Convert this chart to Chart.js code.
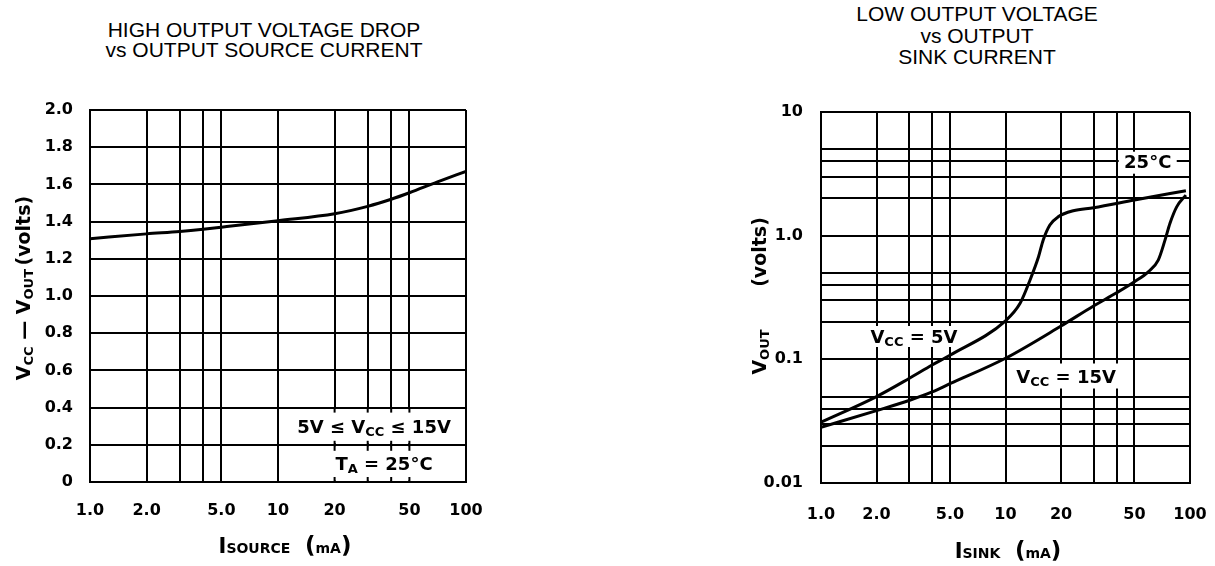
<!DOCTYPE html>
<html>
<head>
<meta charset="utf-8">
<script src="https://cdn.jsdelivr.net/npm/chart.js@4.4.1/dist/chart.umd.min.js"></script>
<style>
  body { margin: 0; background: #fff; width: 1215px; height: 566px; position: relative; overflow: hidden; }
  canvas { position: absolute; top: 0; }
  #srcChart { left: 0; }
  #sinkChart { left: 600px; }
  .title { position: absolute; width: 500px; text-align: center; font-family: "Liberation Sans", Arial, sans-serif; font-size: 21px; color: #000; }
</style>
</head>
<body>
<div class="title" style="left:14px; top:20px; line-height:20px;">HIGH OUTPUT VOLTAGE DROP<br>vs OUTPUT SOURCE CURRENT</div>
<div class="title" style="left:727px; top:3px; line-height:21.5px;">LOW OUTPUT VOLTAGE<br>vs OUTPUT<br>SINK CURRENT</div>
<canvas id="srcChart" width="600" height="566"></canvas>
<canvas id="sinkChart" width="615" height="566"></canvas>
<script>
// left chart: Vcc - Vout vs source current (mA)
const srcCurrent = [1, 2, 3, 4, 5, 10, 20, 30, 40, 50, 70, 100];
const srcDrop = [1.308, 1.334, 1.347, 1.359, 1.37, 1.405, 1.442, 1.482, 1.52, 1.555, 1.612, 1.67];

// right chart: Vout vs sink current (mA), two supply voltages
const sinkCurrent5V = [1, 2, 3, 4, 5, 10, 12, 13.6, 15.1, 16, 17.4, 19.3, 23.3, 30, 50, 95];
const vout5V = [0.031, 0.05, 0.07, 0.09, 0.108, 0.205, 0.284, 0.44, 0.675, 0.92, 1.22, 1.42, 1.59, 1.68, 1.94, 2.31];
const sinkCurrent15V = [1, 2, 3, 4, 5, 10, 20, 30, 40, 50, 59.4, 67.3, 73.2, 77.9, 84.7, 95];
const vout15V = [0.0282, 0.0385, 0.0465, 0.0545, 0.0635, 0.102, 0.186, 0.27, 0.345, 0.424, 0.51, 0.635, 0.92, 1.26, 1.71, 2.13];

// axis ticks (grid lines) and their labels
const currentTicks = [1, 2, 3, 4, 5, 10, 20, 30, 40, 50, 100];
const currentLabels = ['1.0', '2.0', '', '', '5.0', '10', '20', '', '', '50', '100'];
const dropTicks = [0, 0.2, 0.4, 0.6, 0.8, 1.0, 1.2, 1.4, 1.6, 1.8, 2.0];
const dropLabels = ['0', '0.2', '0.4', '0.6', '0.8', '1.0', '1.2', '1.4', '1.6', '1.8', '2.0'];
const voutTicks = [0.01, 0.02, 0.03, 0.04, 0.05, 0.1, 0.2, 0.3, 0.4, 0.5, 1, 2, 3, 4, 5, 10];
const voutLabels = ['0.01', '', '', '', '', '0.1', '', '', '', '', '1.0', '', '', '', '', '10'];

const bold = s => `bold ${s}px "DejaVu Sans"`;
const gridOpts = { color: '#000', lineWidth: 2, drawTicks: false };
const borderOpts = { color: '#000', width: 2 };
const tickFont = { family: 'DejaVu Sans', size: 16, weight: 'bold' };

// draws text made of pieces with different sizes (for subscripts)
function richText(ctx, parts, x, y, vertical) {
  ctx.save();
  ctx.translate(x, y);
  if (vertical) ctx.rotate(-Math.PI / 2);
  ctx.fillStyle = '#000';
  ctx.textAlign = 'left';
  ctx.textBaseline = 'alphabetic';
  let total = 0;
  const widths = parts.map(p => {
    ctx.font = bold(p[1]);
    const w = ctx.measureText(p[0]).width;
    total += w;
    return w;
  });
  let cx = -total / 2;
  parts.forEach((p, i) => {
    ctx.font = bold(p[1]);
    ctx.fillText(p[0], cx, p[2] || 0);
    cx += widths[i];
  });
  ctx.restore();
}

function ticksFrom(values) {
  return s => { s.ticks = values.map(v => ({ value: v })); };
}

const srcNotes = {
  id: 'srcNotes',
  beforeDatasetsDraw(chart) {
    const { ctx, chartArea: a } = chart;
    const x = chart.scales.x, y = chart.scales.y;
    const x10 = x.getPixelForValue(10);
    const yTop = y.getPixelForValue(0.4), yMid = y.getPixelForValue(0.2), yBot = y.getPixelForValue(0);
    ctx.save();
    ctx.fillStyle = '#fff';
    ctx.fillRect(x10 + 1.5, yTop + 1.5, a.right - x10 - 3, yMid - yTop - 3);
    ctx.fillRect(x10 + 1.5, yMid + 1.5, a.right - x10 - 3, yBot - yMid - 3);
    ctx.strokeStyle = '#000';
    ctx.lineWidth = 2;
    [20, 30, 40, 50].forEach(v => {
      const px = x.getPixelForValue(v);
      [[yTop, 5], [yMid, -4], [yMid, 6], [yBot, -5]].forEach(s => {
        ctx.beginPath();
        ctx.moveTo(px, s[0]);
        ctx.lineTo(px, s[0] + s[1]);
        ctx.stroke();
      });
    });
    const mid = (x10 + a.right) / 2;
    richText(ctx, [['5V ≤ V', 18], ['CC', 13, 3], [' ≤ 15V', 18]], mid + 2, (yTop + yMid) / 2 + 6.5);
    richText(ctx, [['T', 18], ['A', 13, 3], [' = 25°C', 18]], mid + 12, (yMid + yBot) / 2 + 6.5);
    ctx.restore();
  },
  afterDraw(chart) {
    const ctx = chart.ctx;
    richText(ctx, [['V', 19], ['CC', 13, 3], [' — ', 19], ['V', 19], ['OUT', 13, 3], [' ', 10], ['(volts)', 19]], 30, 288, true);
    richText(ctx, [['I', 21], ['SOURCE', 14], ['   ', 14], ['(', 23], ['mA', 14], [')', 23]], 285, 553);
  }
};

const sinkNotes = {
  id: 'sinkNotes',
  beforeDatasetsDraw(chart) {
    const ctx = chart.ctx;
    const x = chart.scales.x, y = chart.scales.y;
    const note = (xv, yv, w, h, dy, parts) => {
      const px = x.getPixelForValue(xv), py = y.getPixelForValue(yv);
      ctx.fillStyle = '#fff';
      ctx.fillRect(px - w / 2, py - h / 2 + dy, w, h);
      richText(ctx, parts, px, py + 6.5);
    };
    ctx.save();
    note(59, 4.0, 58, 22, 1.5, [['25°C', 18]]);
    note(3.19, 0.153, 96, 21, 0, [['V', 18], ['CC', 13, 3], [' = 5V', 18]]);
    note(21.3, 0.0733, 118, 25, 0, [['V', 18], ['CC', 13, 3], [' = 15V', 18]]);
    ctx.restore();
  },
  afterDraw(chart) {
    const ctx = chart.ctx;
    richText(ctx, [['V', 19], ['OUT', 13, 3]], 166, 352, true);
    richText(ctx, [['(volts)', 19]], 166, 252, true);
    richText(ctx, [['I', 21], ['SINK', 14], ['   ', 14], ['(', 23], ['mA', 14], [')', 23]], 408, 558);
  }
};

// keep the plot box where the reference has it: no extra room for end labels
function fixHeight(h) {
  return s => { s.height = h; s.paddingLeft = 0; s.paddingRight = 0; };
}

new Chart(document.getElementById('srcChart'), {
  type: 'line',
  data: {
    datasets: [{
      data: srcCurrent.map((v, i) => ({ x: v, y: srcDrop[i] })),
      borderColor: '#000', borderWidth: 3, pointRadius: 0,
      cubicInterpolationMode: 'monotone', fill: false
    }]
  },
  options: {
    responsive: false, animation: false, events: [],
    layout: { padding: { left: 0, top: 110, right: 134, bottom: 0 } },
    plugins: { legend: { display: false }, tooltip: { enabled: false } },
    scales: {
      x: {
        type: 'logarithmic', min: 1, max: 100,
        afterBuildTicks: ticksFrom(currentTicks),
        afterFit: fixHeight(84),
        grid: gridOpts, border: borderOpts,
        ticks: { autoSkip: false, maxRotation: 0, padding: 19, color: '#000', font: tickFont,
          callback: (v, i) => currentLabels[i] }
      },
      y: {
        type: 'linear', min: 0, max: 2,
        afterBuildTicks: ticksFrom(dropTicks),
        afterFit: s => { s.width = 90; },
        grid: gridOpts, border: borderOpts,
        ticks: { autoSkip: false, padding: 17, color: '#000', font: tickFont,
          callback: (v, i) => dropLabels[i] }
      }
    }
  },
  plugins: [srcNotes]
});

new Chart(document.getElementById('sinkChart'), {
  type: 'line',
  data: {
    datasets: [{
      label: 'VCC = 5V',
      data: sinkCurrent5V.map((v, i) => ({ x: v, y: vout5V[i] })),
      borderColor: '#000', borderWidth: 3, pointRadius: 0,
      cubicInterpolationMode: 'monotone', fill: false
    }, {
      label: 'VCC = 15V',
      data: sinkCurrent15V.map((v, i) => ({ x: v, y: vout15V[i] })),
      borderColor: '#000', borderWidth: 3, pointRadius: 0,
      cubicInterpolationMode: 'monotone', fill: false
    }]
  },
  options: {
    responsive: false, animation: false, events: [],
    layout: { padding: { left: 0, top: 112, right: 25, bottom: 0 } },
    plugins: { legend: { display: false }, tooltip: { enabled: false } },
    scales: {
      x: {
        type: 'logarithmic', min: 1, max: 100,
        afterBuildTicks: ticksFrom(currentTicks),
        afterFit: fixHeight(83),
        grid: gridOpts, border: borderOpts,
        ticks: { autoSkip: false, maxRotation: 0, padding: 22, color: '#000', font: tickFont,
          callback: (v, i) => currentLabels[i] }
      },
      y: {
        type: 'logarithmic', min: 0.01, max: 10,
        afterBuildTicks: ticksFrom(voutTicks),
        afterFit: s => { s.width = 221; },
        grid: gridOpts, border: borderOpts,
        ticks: { autoSkip: false, padding: 18, color: '#000', font: tickFont,
          callback: (v, i) => voutLabels[i] }
      }
    }
  },
  plugins: [sinkNotes]
});
</script>
</body>
</html>
